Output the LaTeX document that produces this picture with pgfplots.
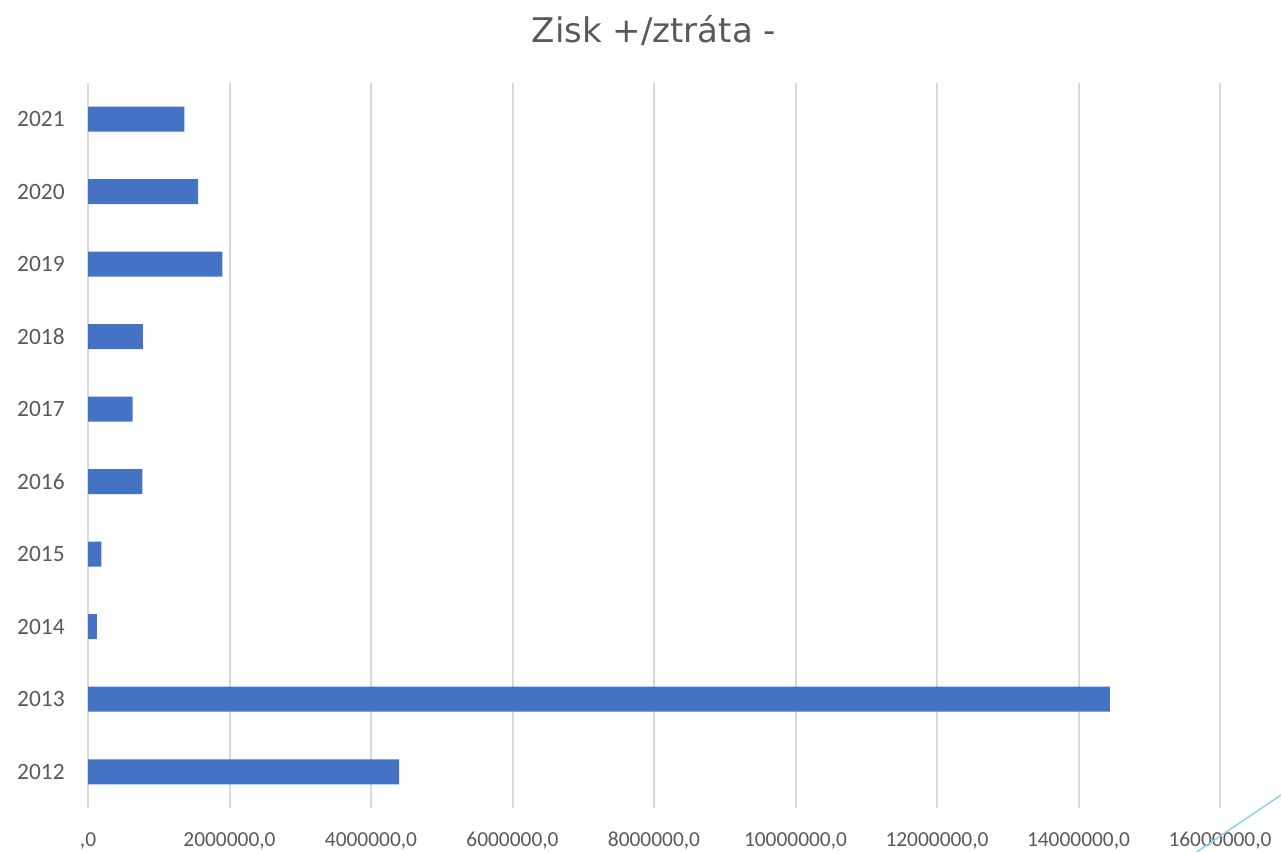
\documentclass[border=0pt]{standalone}
\usepackage{fontspec}
\setmainfont{Carlito}
\newfontfamily\titlefont{DejaVu Sans}
\usepackage{pgfplots}
\pgfplotsset{compat=1.18}
\definecolor{barblue}{HTML}{4472C4}
\definecolor{txt}{HTML}{595959}
\definecolor{gridc}{HTML}{D9D9D9}
\definecolor{deco}{HTML}{8AD3EE}
\begin{document}
\begin{tikzpicture}
\path[use as bounding box] (0,0) rectangle (640.5pt,426pt);
\begin{axis}[at={(44pt,22pt)}, anchor=south west, scale only axis,
 width=566pt, height=362.5pt,
 xbar, bar width=12.5pt, bar shift=0pt,
 xmin=0, xmax=16000000, ymin=-0.5, ymax=9.5,
 xtick={0,2000000,4000000,6000000,8000000,10000000,12000000,14000000,16000000},
 xticklabels={{,0},{2000000,0},{4000000,0},{6000000,0},{8000000,0},{10000000,0},{12000000,0},{14000000,0},{16000000,0}},
 ytick={0,...,9},
 yticklabels={2012,2013,2014,2015,2016,2017,2018,2019,2020,2021},
 axis line style={draw=none}, major tick length=0pt,
 xmajorgrids, ymajorgrids=false, grid style={gridc, line width=1pt},
 ticklabel style={text=txt},
 xticklabel style={font=\fontsize{10.7}{12}\selectfont, anchor=base, inner sep=0pt, yshift=-19pt},
 yticklabel style={font=\fontsize{11.7}{14}\selectfont, anchor=east, inner sep=0pt, xshift=-11.5pt},
 scaled x ticks=false,
]
\addplot[fill=barblue, draw=none] coordinates {(4396000,0) (14445000,1) (127000,2) (188000,3) (768000,4) (632000,5) (777000,6) (1898000,7) (1555000,8) (1361000,9)};
\end{axis}
\node[font=\titlefont\fontsize{17}{20}\selectfont, text=txt] at (327pt,411pt) {Zisk +/ztráta -};
\draw[deco, line width=0.75pt] (598.35pt,0pt) -- (640.5pt,28.5pt);
\end{tikzpicture}
\end{document}
